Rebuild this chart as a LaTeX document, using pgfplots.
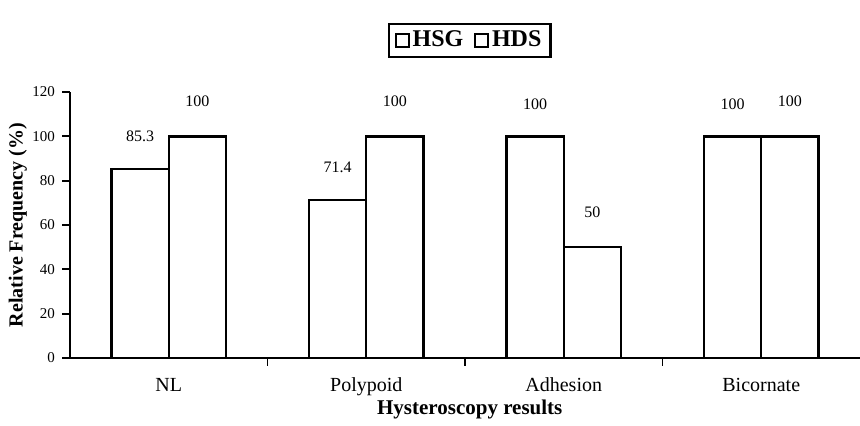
\documentclass[border=0pt]{standalone}
\usepackage{pgfplots}
\pgfplotsset{compat=1.18}
\usepackage{fontspec}
\setmainfont{Liberation Serif}
\begin{document}
\begin{tikzpicture}
\useasboundingbox (0,0) rectangle (430pt,213pt);
\begin{axis}[
  at={(35pt,34pt)}, anchor=south west, scale only axis,
  width=395pt, height=133pt,
  xmin=0, xmax=4, ymin=0, ymax=120,
  /pgf/number format/assume math mode=true,
  axis lines=left, axis line style={-, line width=1pt},
  ytick={0,20,...,120},
  tick align=outside, major tick length=2.5pt,
  tick style={line width=0.9pt, black},
  yticklabel style={font=\fontsize{7.5}{9}\selectfont},
  xtick={1,2,3}, xticklabels={,,}, major tick length=4pt,
  extra x ticks={0.5,1.5,2.5,3.5},
  extra x tick labels={NL,Polypoid,Adhesion,Bicornate},
  extra x tick style={major tick length=0pt,
     xticklabel style={anchor=base, yshift=-17pt, font=\fontsize{10}{12}\selectfont}},
  xlabel={Hysteroscopy results},
  xlabel style={at={(axis description cs:0.506,-0.195)}, anchor=center, font=\bfseries\fontsize{10.5}{12}\selectfont},
  ylabel={Relative Frequency (\%)},
  ylabel style={at={(axis description cs:-0.066,0.5)}, anchor=center, font=\bfseries\fontsize{10}{12}\selectfont},
  ybar, bar width=0.29,
  nodes near coords,
  every node near coord/.append style={anchor=base, font=\fontsize{8}{9}\selectfont, black},
  legend columns=2,
  legend style={at={(axis description cs:0.506,1)}, anchor=south, yshift=17pt,
     draw=black, line width=1.2pt, font=\bfseries\fontsize{12}{14}\selectfont,
     inner xsep=3pt, inner ysep=2pt,
     nodes={inner sep=1.5pt},
     /tikz/every even column/.append style={column sep=4pt}},
  sq/.style={legend image code/.code={\draw[line width=0.9pt, fill=white] (0pt,-3.2pt) rectangle (6.4pt,3.2pt);}},
]
\addplot[ybar, bar shift=-0.145, fill=white, draw=black, line width=1.2pt, sq,
  every node near coord/.append style={yshift=13.5pt}]
  coordinates {(0.5,85.3) (1.5,71.4) (2.5,100) (3.5,100)};
\addlegendentry{HSG}
\addplot[ybar, bar shift=0.145, fill=white, draw=black, line width=1.2pt, sq,
  every node near coord/.append style={yshift=15pt}]
  coordinates {(0.5,100) (1.5,100) (2.5,50) (3.5,100)};
\addlegendentry{HDS}
\end{axis}
\end{tikzpicture}
\end{document}
